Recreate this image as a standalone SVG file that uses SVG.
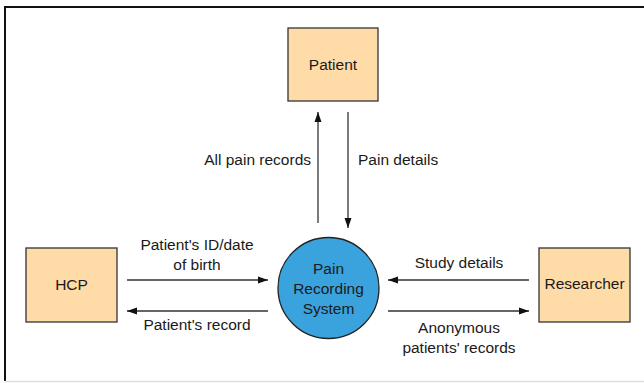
<svg xmlns="http://www.w3.org/2000/svg" width="644" height="383" viewBox="0 0 644 383">
  <style>
    .box { fill: #FFDBA8; stroke: #333333; stroke-width: 1.3; }
    .proc { fill: #3AA2DC; stroke: #222222; stroke-width: 1.3; }
    .flow { stroke: #333333; stroke-width: 1.3; fill: none; marker-end: url(#tip); }
    text { font-family: "Liberation Sans", Arial, sans-serif; font-size: 15.5px; fill: #1a1a1a; }
    .c { text-anchor: middle; }
  </style>
  <defs>
    <marker id="tip" viewBox="0 0 10 10" refX="10" refY="5" markerWidth="10" markerHeight="10" markerUnits="userSpaceOnUse" orient="auto">
      <path d="M0,1.5 L10,5 L0,8.5 Z" fill="#111111"/>
    </marker>
  </defs>

  <rect x="0" y="0" width="644" height="383" fill="#ffffff"/>
  <!-- frame -->
  <g id="frame">
    <line x1="5" y1="7" x2="644" y2="7" stroke="#111111" stroke-width="2"/>
    <line x1="5" y1="6" x2="5" y2="381" stroke="#111111" stroke-width="2"/>
    <line x1="5" y1="381.5" x2="644" y2="381.5" stroke="#dddddd" stroke-width="1.5"/>
  </g>

  <g id="connectors">
    <line class="flow" x1="318" y1="223" x2="318" y2="112"/>
    <line class="flow" x1="348" y1="112" x2="348" y2="228"/>
    <line class="flow" x1="127" y1="280" x2="268" y2="280"/>
    <line class="flow" x1="268" y1="311" x2="127" y2="311"/>
    <line class="flow" x1="529" y1="280" x2="388" y2="280"/>
    <line class="flow" x1="388" y1="311" x2="529" y2="311"/>
    <text x="311" y="165" text-anchor="end">All pain records</text>
    <text x="358" y="165">Pain details</text>
    <text class="c" x="197" y="250">Patient's ID/date</text>
    <text class="c" x="197" y="270">of birth</text>
    <text class="c" x="197" y="330">Patient's record</text>
    <text class="c" x="459" y="268">Study details</text>
    <text class="c" x="459" y="333">Anonymous</text>
    <text class="c" x="459" y="353">patients' records</text>
  </g>

  <g id="patient">
    <rect class="box" x="288" y="28" width="90" height="73"/>
    <text class="c" x="333" y="70">Patient</text>
  </g>
  <g id="hcp">
    <rect class="box" x="26" y="248" width="91" height="74"/>
    <text class="c" x="71.5" y="290">HCP</text>
  </g>
  <g id="researcher">
    <rect class="box" x="539" y="248" width="91" height="74"/>
    <text class="c" x="584.5" y="289">Researcher</text>
  </g>
  <g id="system">
    <circle class="proc" cx="328.5" cy="288" r="50.5"/>
    <text class="c" x="328.5" y="274">Pain</text>
    <text class="c" x="328.5" y="294">Recording</text>
    <text class="c" x="328.5" y="314">System</text>
  </g>
</svg>
